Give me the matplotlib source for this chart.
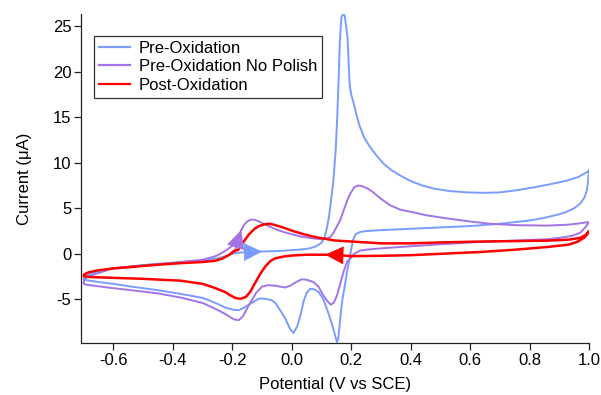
import matplotlib
matplotlib.use("Agg")
import matplotlib.pyplot as plt

plt.rcParams['font.family'] = ['Liberation Sans', 'DejaVu Sans']
plt.rcParams['axes.unicode_minus'] = False

# ---------------- data (scan order) ----------------
pre_v = [-0.196, -0.17, -0.15, -0.10, -0.05, 0.00, 0.03, 0.06, 0.08, 0.10, 0.11, 0.118, 0.125,
         0.13, 0.14, 0.148, 0.153, 0.158, 0.162, 0.167, 0.172, 0.178, 0.183, 0.188, 0.192, 0.195,
         0.20, 0.208, 0.218, 0.23, 0.245, 0.264, 0.285, 0.309, 0.335, 0.365, 0.40, 0.44, 0.48,
         0.53, 0.59, 0.65, 0.70, 0.76, 0.814, 0.87, 0.927, 0.965, 0.994, 1.00,
         0.997, 0.993, 0.985, 0.97, 0.95, 0.92, 0.90, 0.85, 0.80, 0.70, 0.60, 0.50, 0.40, 0.30,
         0.25, 0.23, 0.215, 0.207, 0.20, 0.193, 0.186, 0.178, 0.17, 0.165, 0.16, 0.156, 0.152,
         0.146, 0.138, 0.13, 0.12, 0.105, 0.09, 0.075, 0.062, 0.05, 0.04, 0.029, 0.018, 0.006,
         -0.005, -0.015, -0.022, -0.039, -0.055, -0.067, -0.085, -0.10, -0.112, -0.135, -0.16,
         -0.179, -0.196, -0.224, -0.25, -0.275, -0.30, -0.34, -0.375, -0.45, -0.54, -0.60, -0.65,
         -0.69, -0.70,
         -0.70, -0.695, -0.68, -0.65, -0.60, -0.50, -0.40, -0.30, -0.25, -0.22, -0.20]
pre_i = [0.05, 0.15, 0.20, 0.25, 0.30, 0.40, 0.47, 0.60, 0.80, 1.2, 1.8, 2.8, 4.0,
         5.3, 8.0, 11.5, 15.0, 19.5, 23.5, 26.0, 26.3, 26.2, 25.0, 23.6, 20.5, 18.5,
         17.5, 16.6, 15.2, 13.9, 12.7, 11.7, 10.8, 9.9, 9.2, 8.6, 8.0, 7.5, 7.15,
         6.9, 6.75, 6.7, 6.75, 7.0, 7.3, 7.65, 8.05, 8.45, 9.0, 9.2,
         8.0, 7.0, 6.2, 5.5, 5.0, 4.55, 4.35, 3.95, 3.66, 3.3, 3.05, 2.9, 2.75, 2.6,
         2.5, 2.4, 2.15, 1.6, 0.5, -0.8, -2.0, -3.6, -5.1, -6.5, -8.2, -9.4, -9.7,
         -9.0, -8.0, -7.2, -6.2, -4.9, -4.2, -3.9, -3.85, -4.3, -5.2, -6.8, -8.0, -8.7,
         -8.3, -7.6, -7.1, -6.2, -5.4, -5.1, -4.97, -4.9, -4.95, -5.4, -5.9,
         -6.2, -6.15, -5.9, -5.5, -5.15, -4.85, -4.6, -4.4, -4.0, -3.6, -3.3, -3.1,
         -2.9, -2.8,
         -2.7, -2.5, -2.2, -1.9, -1.6, -1.25, -1.0, -0.75, -0.5, -0.25, 0.0]

nop_v = [-0.193, -0.188, -0.182, -0.177, -0.17, -0.16, -0.15, -0.138, -0.125, -0.11, -0.095,
         -0.078, -0.05, -0.028, 0.00, 0.03, 0.06, 0.085, 0.10, 0.12, 0.13, 0.14, 0.15, 0.163,
         0.175, 0.187, 0.197, 0.21, 0.222, 0.235, 0.25, 0.264, 0.28, 0.30, 0.33, 0.365, 0.41,
         0.45, 0.52, 0.60, 0.668, 0.75, 0.86, 0.93, 0.97, 1.00,
         0.99, 0.97, 0.94, 0.90, 0.86, 0.75, 0.635, 0.50, 0.41, 0.30, 0.25, 0.23, 0.21, 0.20,
         0.186, 0.175, 0.163, 0.152, 0.142, 0.132, 0.12, 0.105, 0.09, 0.073, 0.05, 0.034, 0.015,
         -0.005, -0.022, -0.04, -0.056, -0.08, -0.10, -0.12, -0.145, -0.165, -0.179, -0.195,
         -0.224, -0.26, -0.30, -0.375, -0.45, -0.54, -0.62, -0.69, -0.70,
         -0.70, -0.698, -0.69, -0.67, -0.60, -0.50, -0.375, -0.30, -0.26, -0.24, -0.22, -0.20]
nop_i = [0.1, 0.7, 1.4, 2.0, 2.6, 3.2, 3.55, 3.75, 3.75, 3.55, 3.3,
         3.05, 2.65, 2.4, 2.15, 1.9, 1.75, 1.65, 1.6, 1.7, 1.85, 2.3, 2.9, 3.7,
         4.8, 5.9, 6.6, 7.3, 7.5, 7.45, 7.25, 7.0, 6.6, 6.05, 5.35, 4.85, 4.55,
         4.25, 3.9, 3.55, 3.3, 3.15, 3.1, 3.2, 3.35, 3.5,
         3.0, 2.3, 1.95, 1.75, 1.6, 1.45, 1.3, 1.05, 0.85, 0.6, 0.45, 0.36, 0.0, -0.4,
         -0.9, -1.9, -3.3, -4.6, -5.35, -5.6, -5.2, -4.5, -3.6, -3.1, -2.85, -2.8, -3.1,
         -3.5, -3.7, -3.6, -3.5, -3.45, -3.6, -4.3, -5.7, -6.9, -7.3, -7.2,
         -6.6, -6.0, -5.4, -4.8, -4.35, -4.0, -3.7, -3.4, -3.3,
         -3.2, -2.8, -2.6, -2.3, -1.6, -1.25, -0.9, -0.65, -0.3, 0.0, 0.4, 0.9]

post_v = [0.20, 0.158, 0.113, 0.08, 0.05, 0.00, -0.028, -0.056, -0.072, -0.089, -0.106, -0.125,
          -0.14, -0.155, -0.173, -0.19, -0.21, -0.224, -0.263, -0.30, -0.375, -0.50, -0.60,
          -0.68, -0.70,
          -0.698, -0.685, -0.655, -0.60, -0.54, -0.45, -0.375, -0.30, -0.26, -0.235, -0.21,
          -0.195, -0.18, -0.165, -0.145, -0.125, -0.11, -0.09, -0.075, -0.06, -0.03, 0.00,
          0.04, 0.08, 0.146, 0.186, 0.30, 0.40, 0.50, 0.635, 0.75, 0.86, 0.93, 0.97, 0.99, 1.00,
          0.995, 0.985, 0.96, 0.93, 0.86, 0.75, 0.635, 0.50, 0.40, 0.30, 0.20]
post_i = [-0.25, -0.15, -0.1, -0.1, -0.1, -0.19, -0.3, -0.5, -0.8, -1.4, -2.2, -3.3,
          -4.2, -4.75, -4.95, -4.85, -4.5, -4.2, -3.7, -3.3, -2.95, -2.75, -2.64,
          -2.55, -2.45,
          -2.25, -2.05, -1.83, -1.6, -1.45, -1.2, -1.03, -0.9, -0.78, -0.55, -0.1,
          0.3, 0.45, 1.2, 2.1, 2.75, 3.05, 3.25, 3.3, 3.2, 2.9, 2.55,
          2.15, 1.83, 1.46, 1.38, 1.15, 1.15, 1.25, 1.35, 1.4, 1.45, 1.55, 1.75, 2.1, 2.5,
          2.2, 1.8, 1.3, 1.0, 0.75, 0.45, 0.2, 0.0, -0.15, -0.22, -0.25]

labels = ["Pre-Oxidation", "Pre-Oxidation No Polish", "Post-Oxidation"]
x_ticks = [-0.6, -0.4, -0.2, 0.0, 0.2, 0.4, 0.6, 0.8, 1.0]
y_ticks = [-5, 0, 5, 10, 15, 20, 25]

# ---------------- style ----------------
c_blue = '#7b9cff'
c_purple = '#a374e8'
c_red = '#ff0000'

fig = plt.figure(figsize=(6.01, 3.95), dpi=100)
ax = fig.add_axes([81/601, 1-343/395, 508/601, 329/395])

series = [(pre_v, pre_i, c_blue, 1.4, (2, 3)),
          (nop_v, nop_i, c_purple, 1.4, (2, 4)),
          (post_v, post_i, c_red, 1.8, (1, 2))]
for (v, i, c, lw, arr), lab in zip(series, labels):
    ax.plot(v, i, color=c, lw=lw, label=lab, solid_joinstyle='round')
    a, b = arr
    ax.annotate("", xy=(v[b], i[b]), xytext=(v[a], i[a]),
                arrowprops=dict(arrowstyle="-|>,head_length=1.0,head_width=0.5",
                                color=c, lw=0.01, shrinkA=0, shrinkB=0,
                                mutation_scale=13))

ax.set_xlim(-0.709, 1.0)
ax.set_ylim(-9.8, 26.35)
ax.set_xticks(x_ticks)
ax.set_xticklabels([f"{t:.1f}" for t in x_ticks])
ax.set_yticks(y_ticks)
ax.set_yticklabels([str(t) for t in y_ticks])
for s in ['top', 'right']:
    ax.spines[s].set_visible(False)
for s in ['left', 'bottom']:
    ax.spines[s].set_linewidth(0.9)
    ax.spines[s].set_color('#222222')
ax.tick_params(direction='out', length=5, width=0.9, labelsize=12, pad=2, colors='#222222',
               labelcolor='black')
ax.set_xlabel("Potential (V vs SCE)", fontsize=12, labelpad=7)
ax.set_ylabel("Current (μA)", fontsize=12, labelpad=15)

leg = ax.legend(loc='upper left', bbox_to_anchor=(13/508, 1-22/329), borderaxespad=0,
                fontsize=12, frameon=True, fancybox=False, framealpha=1,
                edgecolor='#333333', handlelength=1.85, handletextpad=0.55,
                labelspacing=0.2, borderpad=0.3)
leg.get_frame().set_linewidth(0.9)
for ln in leg.get_lines():
    ln.set_linewidth(1.6)

fig.savefig("out.png", dpi=100)
